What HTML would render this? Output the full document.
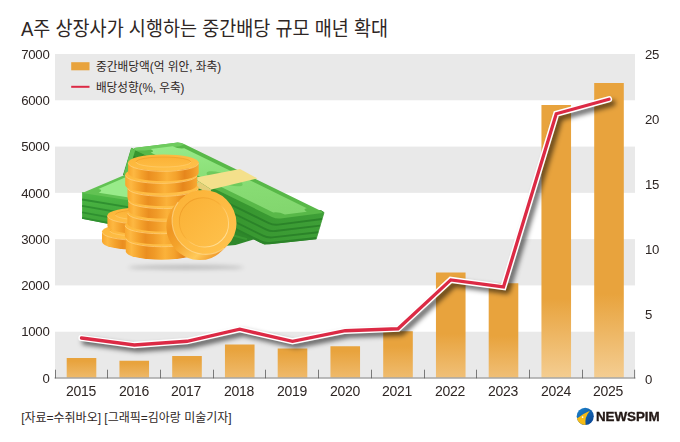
<!DOCTYPE html>
<html lang="ko"><head><meta charset="utf-8"><title>A주 상장사가 시행하는 중간배당 규모 매년 확대</title>
<style>
html,body{margin:0;padding:0;background:#fff}
#c{position:relative;width:680px;height:442px;overflow:hidden;background:#fff;font-family:"Liberation Sans",sans-serif;color:#2e2624}
.n{position:absolute;font-size:13.2px;line-height:14px;height:14px;white-space:nowrap;letter-spacing:-0.25px;will-change:transform}
.yl{left:0;width:49.5px;text-align:right}
.yr{left:645px;text-align:left}
.xl{width:60px;text-align:center;top:383.6px;font-size:14px;line-height:15px;height:15px;letter-spacing:-0.3px}
#logo{position:absolute;left:595.6px;top:409.2px;font-size:13.4px;line-height:15px;font-weight:bold;color:#231815;letter-spacing:-0.05px;-webkit-text-stroke:0.35px #231815;will-change:transform}
</style></head><body><div id="c">
<svg width="680" height="442" viewBox="0 0 680 442" style="position:absolute;left:0;top:0">
<defs>
<linearGradient id="bar" gradientUnits="userSpaceOnUse" x1="0" y1="54" x2="0" y2="378">
<stop offset="0" stop-color="#e8a33d"/><stop offset="0.80" stop-color="#e8a33d"/><stop offset="0.93" stop-color="#eebb70"/><stop offset="1" stop-color="#f3cb8e"/>
</linearGradient>
<filter id="lsh" x="-5%" y="-5%" width="110%" height="115%"><feGaussianBlur stdDeviation="2.6"/></filter>
<filter id="gsh" x="-20%" y="-300%" width="140%" height="700%"><feGaussianBlur stdDeviation="2"/></filter>
</defs>
<rect x="55.0" y="54.00" width="580.0" height="46.29" fill="#e9e9e9"/>
<rect x="55.0" y="146.57" width="580.0" height="46.29" fill="#e9e9e9"/>
<rect x="55.0" y="239.14" width="580.0" height="46.29" fill="#e9e9e9"/>
<rect x="55.0" y="331.71" width="580.0" height="46.29" fill="#e9e9e9"/>
<linearGradient id="b0" gradientUnits="userSpaceOnUse" x1="0" y1="361.0" x2="0" y2="378.0"><stop offset="0" stop-color="#e8a33d"/><stop offset="1" stop-color="#eeba6b"/></linearGradient>
<rect x="66.70" y="358" width="29.6" height="20.00" fill="url(#b0)"/>
<linearGradient id="b1" gradientUnits="userSpaceOnUse" x1="0" y1="363.3" x2="0" y2="378.0"><stop offset="0" stop-color="#e8a33d"/><stop offset="1" stop-color="#eeb96a"/></linearGradient>
<rect x="119.45" y="360.75" width="29.6" height="17.25" fill="url(#b1)"/>
<linearGradient id="b2" gradientUnits="userSpaceOnUse" x1="0" y1="359.3" x2="0" y2="378.0"><stop offset="0" stop-color="#e8a33d"/><stop offset="1" stop-color="#eeba6b"/></linearGradient>
<rect x="172.20" y="356" width="29.6" height="22.00" fill="url(#b2)"/>
<linearGradient id="b3" gradientUnits="userSpaceOnUse" x1="0" y1="349.5" x2="0" y2="378.0"><stop offset="0" stop-color="#e8a33d"/><stop offset="1" stop-color="#efbb6d"/></linearGradient>
<rect x="224.95" y="344.5" width="29.6" height="33.50" fill="url(#b3)"/>
<linearGradient id="b4" gradientUnits="userSpaceOnUse" x1="0" y1="352.9" x2="0" y2="378.0"><stop offset="0" stop-color="#e8a33d"/><stop offset="1" stop-color="#efba6c"/></linearGradient>
<rect x="277.70" y="348.5" width="29.6" height="29.50" fill="url(#b4)"/>
<linearGradient id="b5" gradientUnits="userSpaceOnUse" x1="0" y1="351.0" x2="0" y2="378.0"><stop offset="0" stop-color="#e8a33d"/><stop offset="1" stop-color="#efba6c"/></linearGradient>
<rect x="330.45" y="346.25" width="29.6" height="31.75" fill="url(#b5)"/>
<linearGradient id="b6" gradientUnits="userSpaceOnUse" x1="0" y1="346.2" x2="0" y2="378.0"><stop offset="0" stop-color="#e8a33d"/><stop offset="1" stop-color="#efbc6f"/></linearGradient>
<rect x="383.20" y="331.25" width="29.6" height="46.75" fill="url(#b6)"/>
<linearGradient id="b7" gradientUnits="userSpaceOnUse" x1="0" y1="333.8" x2="0" y2="378.0"><stop offset="0" stop-color="#e8a33d"/><stop offset="1" stop-color="#f0c078"/></linearGradient>
<rect x="435.95" y="272.5" width="29.6" height="105.50" fill="url(#b7)"/>
<linearGradient id="b8" gradientUnits="userSpaceOnUse" x1="0" y1="336.1" x2="0" y2="378.0"><stop offset="0" stop-color="#e8a33d"/><stop offset="1" stop-color="#f0bf76"/></linearGradient>
<rect x="488.70" y="283.25" width="29.6" height="94.75" fill="url(#b8)"/>
<linearGradient id="b9" gradientUnits="userSpaceOnUse" x1="0" y1="298.7" x2="0" y2="378.0"><stop offset="0" stop-color="#e8a33d"/><stop offset="1" stop-color="#f4cd91"/></linearGradient>
<rect x="541.45" y="105" width="29.6" height="273.00" fill="url(#b9)"/>
<linearGradient id="b10" gradientUnits="userSpaceOnUse" x1="0" y1="294.1" x2="0" y2="378.0"><stop offset="0" stop-color="#e8a33d"/><stop offset="1" stop-color="#f4cd92"/></linearGradient>
<rect x="594.20" y="83" width="29.6" height="295.00" fill="url(#b10)"/>
<path d="M54.6 378.0H635.4" stroke="#a6a6a6" stroke-width="1.5" fill="none"/>
<path d="M55.50 378.3v-8.6M107.50 378.3v-8.6M160.50 378.3v-8.6M213.50 378.3v-8.6M265.50 378.3v-8.6M318.50 378.3v-8.6M371.50 378.3v-8.6M424.50 378.3v-8.6M476.50 378.3v-8.6M529.50 378.3v-8.6M582.50 378.3v-8.6M634.60 378.3v-8.6" stroke="#5c5c5c" stroke-width="0.8" fill="none"/>
<g id="illus"><defs>
<linearGradient id="cside" x1="0" y1="0" x2="1" y2="0">
<stop offset="0" stop-color="#f8a62c"/><stop offset="0.08" stop-color="#fdb842"/><stop offset="0.19" stop-color="#f4a12b"/><stop offset="0.29" stop-color="#ea8e20"/><stop offset="0.40" stop-color="#f09a27"/><stop offset="0.55" stop-color="#fbb23a"/><stop offset="0.68" stop-color="#f4a22c"/><stop offset="0.80" stop-color="#e6861c"/><stop offset="0.90" stop-color="#ee9524"/><stop offset="1" stop-color="#f8aa33"/>
</linearGradient>
<linearGradient id="cface" x1="0" y1="0" x2="1" y2="1"><stop offset="0" stop-color="#fcb538"/><stop offset="1" stop-color="#ffc24c"/></linearGradient>
<linearGradient id="cinner" x1="0" y1="0" x2="0" y2="1"><stop offset="0" stop-color="#fbb237"/><stop offset="1" stop-color="#febc43"/></linearGradient>
<linearGradient id="bface" gradientUnits="userSpaceOnUse" x1="-32" y1="0" x2="32" y2="0"><stop offset="0" stop-color="#fcb439"/><stop offset="1" stop-color="#ffc14c"/></linearGradient>
<linearGradient id="binner" gradientUnits="userSpaceOnUse" x1="-25" y1="0" x2="25" y2="0"><stop offset="0" stop-color="#fbb338"/><stop offset="1" stop-color="#febf49"/></linearGradient>
<linearGradient id="bring" gradientUnits="userSpaceOnUse" x1="-24.7" y1="0" x2="24.7" y2="0"><stop offset="0" stop-color="#ec9824" stop-opacity="0.75"/><stop offset="0.45" stop-color="#f3a62e" stop-opacity="0.5"/><stop offset="0.6" stop-color="#ffd27c" stop-opacity="0.6"/><stop offset="1" stop-color="#ffe09a" stop-opacity="0.95"/></linearGradient>
<linearGradient id="bedge" gradientUnits="userSpaceOnUse" x1="-32.3" y1="0" x2="32.3" y2="0"><stop offset="0" stop-color="#f6a62e"/><stop offset="0.22" stop-color="#ee9522"/><stop offset="0.45" stop-color="#f4a32b"/><stop offset="0.78" stop-color="#ffca5a"/><stop offset="1" stop-color="#f0992a"/></linearGradient>
<linearGradient id="panelB" x1="0" y1="0" x2="0" y2="1"><stop offset="0" stop-color="#98ea89"/><stop offset="0.45" stop-color="#8ade76"/><stop offset="1" stop-color="#82d66e"/></linearGradient>
<linearGradient id="sideF" gradientUnits="userSpaceOnUse" x1="0" y1="193" x2="0" y2="226"><stop offset="0" stop-color="#4fb946"/><stop offset="0.3" stop-color="#47b040"/><stop offset="1" stop-color="#3da237"/></linearGradient>
<linearGradient id="sideB" gradientUnits="userSpaceOnUse" x1="230" y1="0" x2="322" y2="0"><stop offset="0" stop-color="#37962f"/><stop offset="1" stop-color="#3e9f37"/></linearGradient>
</defs><ellipse cx="186" cy="267.3" rx="58" ry="2.2" fill="#000" fill-opacity="0.2" filter="url(#gsh)"/><polygon points="226.00,220.00 258.00,234.00 254.40,239.20 235.60,245.10 224.00,246.00" fill="#2e882b"/><path d="M226 233.5L247 239.2" stroke="#3a9933" stroke-width="2.2"/><path d="M131.5 148.3L272.25 214L321 210.5L324 212.5L316.25 238.75L264.45 244.20L123.60 174.40Z" fill="url(#sideB)" stroke="#37962f" stroke-width="0.8" stroke-linejoin="round"/><path d="M129.53 154.83L268.81 223.10Q273.30 225.30 278.26 224.67L322.06 219.06" fill="none" stroke="#2b8329" stroke-width="1.9" stroke-linecap="butt"/><path d="M127.55 161.35L265.86 229.39Q270.35 231.60 275.31 231.00L320.12 225.62" fill="none" stroke="#2b8329" stroke-width="1.9" stroke-linecap="butt"/><path d="M125.58 167.88L262.92 235.69Q267.40 237.90 272.37 237.34L318.19 232.19" fill="none" stroke="#2b8329" stroke-width="1.9" stroke-linecap="butt"/><path d="M123.60 173.80L260.27 241.38Q264.75 243.60 269.72 243.07L316.25 238.15" fill="none" stroke="#2b8329" stroke-width="2.4" stroke-linecap="butt"/><polygon points="131.30,148.10 123.60,174.40 127.60,176.20 135.20,150.20" fill="#62c152"/><g transform="matrix(48.700 -6.200 144.750 70.700 131.5 148.3)"><rect x="0" y="0" width="1" height="1" rx="0.09" ry="0.03" fill="#58b848"/><path d="M0.09 0H0.91Q1 0 1 0.03L0.86 0.045H0.14L0 0.03Q0 0 0.09 0Z" fill="#6ecb5e"/><path d="M0.2900 0.0350L0.7400 0.0350A0.12 0.04 0 0 0 0.8600 0.0750L0.8600 0.9220A0.12 0.04 0 0 0 0.7400 0.9620L0.2900 0.9620A0.12 0.04 0 0 0 0.1700 0.9220L0.1700 0.0750A0.12 0.04 0 0 0 0.2900 0.0350Z" fill="url(#panelB)"/><ellipse cx="0.5" cy="0.475" rx="0.2" ry="0.105" fill="#6fca5d"/></g><polygon points="193.50,178.00 240.00,169.00 257.50,178.50 211.25,189.40" fill="#f4e08b"/><polygon points="193.50,178.00 211.25,189.40 209.80,193.20 193.00,186.00" fill="#e5cf78"/><polygon points="82.10,191.90 134.10,200.00 134.10,228.80 82.10,218.70" fill="url(#sideF)"/><path d="M82.10 199.50L134.10 208.10" stroke="#2f9030" stroke-width="1.8" fill="none"/><path d="M82.10 205.90L134.10 215.00" stroke="#2f9030" stroke-width="1.8" fill="none"/><path d="M82.10 212.30L134.10 221.90" stroke="#2f9030" stroke-width="1.8" fill="none"/><path d="M82.10 217.90L134.10 228.00" stroke="#2f9030" stroke-width="1.8" fill="none"/><g transform="matrix(42.800 -18.300 52.000 8.100 82.1 193.1)"><rect x="0" y="0" width="1.2" height="1.2" rx="0.03" ry="0.03" fill="#62c253"/><path d="M0.2700 0.0900L1.1500 0.0900A0.15 0.13 0 0 0 1.3000 0.2200L1.3000 1.1700A0.15 0.13 0 0 0 1.1500 1.3000L0.2700 1.3000A0.15 0.13 0 0 0 0.1200 1.1700L0.1200 0.2200A0.15 0.13 0 0 0 0.2700 0.0900Z" fill="#99eb8a"/></g><path d="M102.00 231.50V241.80A35.3 8.1 0 0 0 172.60 241.80V231.50Z" fill="url(#cside)"/><ellipse cx="137.3" cy="231.5" rx="35.3" ry="8.1" fill="url(#cface)"/><path d="M102.30 232.10A35.00 8.1 0 0 0 172.30 232.10" fill="none" stroke="#ffd585" stroke-width="0.9" stroke-opacity="0.8"/><ellipse cx="137.3" cy="230.90" rx="27.36" ry="5.02" fill="url(#cinner)"/><path d="M109.94 230.90A27.36 5.02 0 0 1 164.66 230.90" fill="none" stroke="#ec9a26" stroke-width="0.8" stroke-opacity="0.75"/><path d="M109.94 230.90A27.36 5.02 0 0 0 164.66 230.90" fill="none" stroke="#ffd27a" stroke-width="0.7" stroke-opacity="0.8"/><path d="M107.40 215.40V226.00A35.3 8.1 0 0 0 178.00 226.00V215.40Z" fill="url(#cside)"/><ellipse cx="142.7" cy="215.4" rx="35.3" ry="8.1" fill="url(#cface)"/><path d="M107.70 216.00A35.00 8.1 0 0 0 177.70 216.00" fill="none" stroke="#ffd585" stroke-width="0.9" stroke-opacity="0.8"/><ellipse cx="142.7" cy="214.80" rx="27.36" ry="5.02" fill="url(#cinner)"/><path d="M115.34 214.80A27.36 5.02 0 0 1 170.06 214.80" fill="none" stroke="#ec9a26" stroke-width="0.8" stroke-opacity="0.75"/><path d="M115.34 214.80A27.36 5.02 0 0 0 170.06 214.80" fill="none" stroke="#ffd27a" stroke-width="0.7" stroke-opacity="0.8"/><path d="M125.80 238.00V251.60A35.7 8.1 0 0 0 197.20 251.60V238.00Z" fill="url(#cside)"/><ellipse cx="161.5" cy="238" rx="35.7" ry="8.1" fill="url(#cface)"/><path d="M126.10 238.60A35.40 8.1 0 0 0 196.90 238.60" fill="none" stroke="#ffd585" stroke-width="0.9" stroke-opacity="0.8"/><ellipse cx="161.5" cy="237.40" rx="27.67" ry="5.02" fill="url(#cinner)"/><path d="M133.83 237.40A27.67 5.02 0 0 1 189.17 237.40" fill="none" stroke="#ec9a26" stroke-width="0.8" stroke-opacity="0.75"/><path d="M133.83 237.40A27.67 5.02 0 0 0 189.17 237.40" fill="none" stroke="#ffd27a" stroke-width="0.7" stroke-opacity="0.8"/><path d="M124.90 225.00V236.20A35.6 8.1 0 0 0 196.10 236.20V225.00Z" fill="url(#cside)"/><ellipse cx="160.5" cy="225" rx="35.6" ry="8.1" fill="url(#cface)"/><path d="M125.20 225.60A35.30 8.1 0 0 0 195.80 225.60" fill="none" stroke="#ffd585" stroke-width="0.9" stroke-opacity="0.8"/><ellipse cx="160.5" cy="224.40" rx="27.59" ry="5.02" fill="url(#cinner)"/><path d="M132.91 224.40A27.59 5.02 0 0 1 188.09 224.40" fill="none" stroke="#ec9a26" stroke-width="0.8" stroke-opacity="0.75"/><path d="M132.91 224.40A27.59 5.02 0 0 0 188.09 224.40" fill="none" stroke="#ffd27a" stroke-width="0.7" stroke-opacity="0.8"/><path d="M127.40 212.50V223.50A35.4 8.1 0 0 0 198.20 223.50V212.50Z" fill="url(#cside)"/><ellipse cx="162.8" cy="212.5" rx="35.4" ry="8.1" fill="url(#cface)"/><path d="M127.70 213.10A35.10 8.1 0 0 0 197.90 213.10" fill="none" stroke="#ffd585" stroke-width="0.9" stroke-opacity="0.8"/><ellipse cx="162.8" cy="211.90" rx="27.43" ry="5.02" fill="url(#cinner)"/><path d="M135.37 211.90A27.43 5.02 0 0 1 190.24 211.90" fill="none" stroke="#ec9a26" stroke-width="0.8" stroke-opacity="0.75"/><path d="M135.37 211.90A27.43 5.02 0 0 0 190.24 211.90" fill="none" stroke="#ffd27a" stroke-width="0.7" stroke-opacity="0.8"/><path d="M128.20 199.90V210.40A35.3 8.1 0 0 0 198.80 210.40V199.90Z" fill="url(#cside)"/><ellipse cx="163.5" cy="199.9" rx="35.3" ry="8.1" fill="url(#cface)"/><path d="M128.50 200.50A35.00 8.1 0 0 0 198.50 200.50" fill="none" stroke="#ffd585" stroke-width="0.9" stroke-opacity="0.8"/><ellipse cx="163.5" cy="199.30" rx="27.36" ry="5.02" fill="url(#cinner)"/><path d="M136.14 199.30A27.36 5.02 0 0 1 190.86 199.30" fill="none" stroke="#ec9a26" stroke-width="0.8" stroke-opacity="0.75"/><path d="M136.14 199.30A27.36 5.02 0 0 0 190.86 199.30" fill="none" stroke="#ffd27a" stroke-width="0.7" stroke-opacity="0.8"/><path d="M127.50 187.50V198.00A35.5 8.1 0 0 0 198.50 198.00V187.50Z" fill="url(#cside)"/><ellipse cx="163" cy="187.5" rx="35.5" ry="8.1" fill="url(#cface)"/><path d="M127.80 188.10A35.20 8.1 0 0 0 198.20 188.10" fill="none" stroke="#ffd585" stroke-width="0.9" stroke-opacity="0.8"/><ellipse cx="163" cy="186.90" rx="27.51" ry="5.02" fill="url(#cinner)"/><path d="M135.49 186.90A27.51 5.02 0 0 1 190.51 186.90" fill="none" stroke="#ec9a26" stroke-width="0.8" stroke-opacity="0.75"/><path d="M135.49 186.90A27.51 5.02 0 0 0 190.51 186.90" fill="none" stroke="#ffd27a" stroke-width="0.7" stroke-opacity="0.8"/><path d="M125.20 174.65V185.05A36 8.1 0 0 0 197.20 185.05V174.65Z" fill="url(#cside)"/><ellipse cx="161.2" cy="174.65" rx="36" ry="8.1" fill="url(#cface)"/><path d="M125.50 175.25A35.70 8.1 0 0 0 196.90 175.25" fill="none" stroke="#ffd585" stroke-width="0.9" stroke-opacity="0.8"/><ellipse cx="161.2" cy="174.05" rx="27.90" ry="5.02" fill="url(#cinner)"/><path d="M133.30 174.05A27.90 5.02 0 0 1 189.10 174.05" fill="none" stroke="#ec9a26" stroke-width="0.8" stroke-opacity="0.75"/><path d="M133.30 174.05A27.90 5.02 0 0 0 189.10 174.05" fill="none" stroke="#ffd27a" stroke-width="0.7" stroke-opacity="0.8"/><path d="M128.10 162.60V173.00A35.3 8.1 0 0 0 198.70 173.00V162.60Z" fill="url(#cside)"/><ellipse cx="163.4" cy="162.6" rx="35.3" ry="8.1" fill="url(#cface)"/><path d="M128.40 163.20A35.00 8.1 0 0 0 198.40 163.20" fill="none" stroke="#ffd585" stroke-width="0.9" stroke-opacity="0.8"/><ellipse cx="163.4" cy="162.00" rx="27.36" ry="5.02" fill="url(#cinner)"/><path d="M136.04 162.00A27.36 5.02 0 0 1 190.76 162.00" fill="none" stroke="#ec9a26" stroke-width="0.8" stroke-opacity="0.75"/><path d="M136.04 162.00A27.36 5.02 0 0 0 190.76 162.00" fill="none" stroke="#ffd27a" stroke-width="0.7" stroke-opacity="0.8"/><g transform="translate(204.3 222.1) rotate(45) scale(1.017 0.976)"><path d="M-32.3 0V8.4A32.3 32.3 0 0 0 32.3 8.4V0Z" fill="url(#bedge)"/><circle cx="0" cy="0" r="32.3" fill="url(#bface)"/><path d="M31.99 4.50A32.3 32.3 0 0 1 -31.99 4.50" fill="none" stroke="#ffdf9e" stroke-width="1.1" stroke-opacity="0.6"/><circle cx="0" cy="0.5" r="24.7" fill="url(#binner)"/><circle cx="0" cy="0.5" r="24.7" fill="none" stroke="url(#bring)" stroke-width="0.95"/></g></g>
<path d="M81.5 338 L134.25 345 L187.0 341.25 L239.75 329.25 L292.5 341.25 L345.25 330.75 L398.0 328.75 L450.75 279.9 L503.5 287 L556.25 113.75 L609.0 99.25" transform="translate(3.4 3.7)" stroke="#000" stroke-opacity="0.6" stroke-width="6.3" fill="none" stroke-linecap="round" stroke-linejoin="round" filter="url(#lsh)"/>
<path d="M81.5 338 L134.25 345 L187.0 341.25 L239.75 329.25 L292.5 341.25 L345.25 330.75 L398.0 328.75 L450.75 279.9 L503.5 287 L556.25 113.75 L609.0 99.25" stroke="#fff" stroke-width="6.3" fill="none" stroke-linecap="round" stroke-linejoin="miter" stroke-miterlimit="6"/>
<path d="M81.5 338 L134.25 345 L187.0 341.25 L239.75 329.25 L292.5 341.25 L345.25 330.75 L398.0 328.75 L450.75 279.9 L503.5 287 L556.25 113.75 L609.0 99.25" stroke="#dc2a45" stroke-width="3.3" fill="none" stroke-linecap="round" stroke-linejoin="miter" stroke-miterlimit="6"/>
<rect x="71.2" y="62.2" width="18.3" height="8.1" fill="#e8a33d"/>
<path d="M71.2 86.8H89.5" stroke="#dc2a45" stroke-width="2"/>
<text x="21" y="36.3" font-size="20" fill="#2e2624" font-family="'Liberation Sans','Noto Sans CJK KR',sans-serif" textLength="367" lengthAdjust="spacingAndGlyphs">A주 상장사가 시행하는 중간배당 규모 매년 확대</text>
<text x="95.9" y="70.6" font-size="12" fill="#2e2624" font-family="'Liberation Sans','Noto Sans CJK KR',sans-serif" textLength="125.3" lengthAdjust="spacingAndGlyphs">중간배당액(억 위안, 좌축)</text>
<text x="95.9" y="91.6" font-size="12" fill="#2e2624" font-family="'Liberation Sans','Noto Sans CJK KR',sans-serif" textLength="88.6" lengthAdjust="spacingAndGlyphs">배당성향(%, 우축)</text>
<text x="21.2" y="422.2" font-size="12" fill="#2e2624" font-family="'Liberation Sans','Noto Sans CJK KR',sans-serif" textLength="210.4" lengthAdjust="spacingAndGlyphs">[자료=수쥐바오] [그래픽=김아랑 미술기자]</text>
<g>
<linearGradient id="lg" gradientUnits="userSpaceOnUse" x1="579" y1="409" x2="592" y2="424"><stop offset="0" stop-color="#1c80c8"/><stop offset="0.5" stop-color="#1261ae"/><stop offset="1" stop-color="#0b4593"/></linearGradient>
<circle cx="585.25" cy="416.35" r="8.55" fill="url(#lg)"/>
<path d="M589.9 410.7 Q583.6 413.3 576.9 418.4 A8.55 8.55 0 0 0 585.6 424.9 Q584.3 417.2 589.9 410.7Z" fill="#f6bb16"/>
<circle cx="582.6" cy="417.1" r="0.85" fill="#fff"/>
</g>
</svg>
<div class="n yl" style="top:371.70px">0</div>
<div class="n yl" style="top:325.41px">1000</div>
<div class="n yl" style="top:279.13px">2000</div>
<div class="n yl" style="top:232.84px">3000</div>
<div class="n yl" style="top:186.56px">4000</div>
<div class="n yl" style="top:140.27px">5000</div>
<div class="n yl" style="top:93.99px">6000</div>
<div class="n yl" style="top:47.70px">7000</div>
<div class="n yr" style="top:372.70px">0</div>
<div class="n yr" style="top:307.68px">5</div>
<div class="n yr" style="top:242.66px">10</div>
<div class="n yr" style="top:177.64px">15</div>
<div class="n yr" style="top:112.62px">20</div>
<div class="n yr" style="top:47.60px">25</div>
<div class="n xl" style="left:50.80px">2015</div>
<div class="n xl" style="left:103.55px">2016</div>
<div class="n xl" style="left:156.30px">2017</div>
<div class="n xl" style="left:209.05px">2018</div>
<div class="n xl" style="left:261.80px">2019</div>
<div class="n xl" style="left:314.55px">2020</div>
<div class="n xl" style="left:367.30px">2021</div>
<div class="n xl" style="left:420.05px">2022</div>
<div class="n xl" style="left:472.80px">2023</div>
<div class="n xl" style="left:525.55px">2024</div>
<div class="n xl" style="left:578.30px">2025</div>
<div id="logo">NEWSPIM</div>
</div></body></html>
